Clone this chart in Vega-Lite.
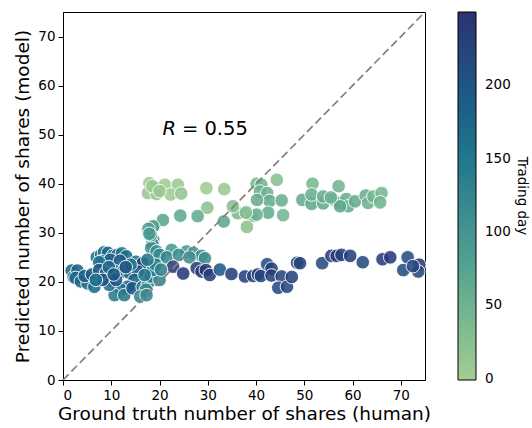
{
  "$schema": "https://vega.github.io/schema/vega-lite/v6.json",
  "width": 362,
  "height": 368,
  "autosize": {"type": "none"},
  "padding": {"left": 63, "top": 12, "right": 107, "bottom": 48},
  "config": {
    "font": "DejaVu Sans",
    "view": {"stroke": "black", "strokeWidth": 1},
    "axis": {"grid": false, "domainColor": "black", "tickColor": "black", "labelColor": "black", "titleColor": "black", "labelFontSize": 13.5, "titleFontSize": 18.5, "titleFontWeight": "normal", "tickSize": 5, "labelPadding": 3, "labelFont": "DejaVu Sans", "titleFont": "DejaVu Sans"}
  },
  "datasets": {
    "pts": [
      {"x": 17.9, "y": 40.1, "day": 5}, {"x": 19.3, "y": 39.1, "day": 10}, {"x": 21.1, "y": 39.8, "day": 3}, {"x": 23.8, "y": 39.8, "day": 8},
      {"x": 17.6, "y": 38.1, "day": 12}, {"x": 19.4, "y": 37.9, "day": 15}, {"x": 22.3, "y": 37.8, "day": 6}, {"x": 24.5, "y": 38.0, "day": 14},
      {"x": 29.7, "y": 39.1, "day": 4}, {"x": 33.4, "y": 38.9, "day": 7}, {"x": 29.9, "y": 35.1, "day": 20}, {"x": 18.5, "y": 39.5, "day": 9},
      {"x": 20.0, "y": 38.5, "day": 11},
      {"x": 18.9, "y": 31.4, "day": 75}, {"x": 20.7, "y": 32.6, "day": 70}, {"x": 24.3, "y": 33.5, "day": 65}, {"x": 27.9, "y": 33.4, "day": 62},
      {"x": 18.7, "y": 31.3, "day": 78}, {"x": 33.3, "y": 32.3, "day": 68},
      {"x": 44.3, "y": 40.8, "day": 25}, {"x": 40.1, "y": 40.0, "day": 40}, {"x": 41.1, "y": 39.8, "day": 45}, {"x": 40.8, "y": 38.4, "day": 55},
      {"x": 42.3, "y": 38.1, "day": 50}, {"x": 42.8, "y": 36.5, "day": 60}, {"x": 45.3, "y": 36.6, "day": 55}, {"x": 40.2, "y": 36.7, "day": 58},
      {"x": 45.6, "y": 33.6, "day": 45}, {"x": 38.0, "y": 34.3, "day": 35}, {"x": 36.2, "y": 34.0, "day": 40}, {"x": 39.1, "y": 33.4, "day": 30},
      {"x": 38.1, "y": 31.2, "day": 20}, {"x": 35.2, "y": 35.4, "day": 25}, {"x": 42.5, "y": 34.1, "day": 60}, {"x": 40.1, "y": 33.7, "day": 55},
      {"x": 37.9, "y": 34.1, "day": 30},
      {"x": 51.7, "y": 40.0, "day": 40}, {"x": 57.1, "y": 39.5, "day": 45}, {"x": 49.6, "y": 36.7, "day": 60}, {"x": 51.5, "y": 35.9, "day": 65},
      {"x": 51.5, "y": 37.8, "day": 55}, {"x": 53.9, "y": 36.0, "day": 62}, {"x": 53.9, "y": 37.4, "day": 58}, {"x": 56.0, "y": 36.8, "day": 60},
      {"x": 57.4, "y": 36.1, "day": 65}, {"x": 58.7, "y": 36.9, "day": 55}, {"x": 59.1, "y": 35.4, "day": 62}, {"x": 60.5, "y": 36.4, "day": 60},
      {"x": 62.7, "y": 37.6, "day": 55}, {"x": 63.2, "y": 36.1, "day": 50}, {"x": 64.3, "y": 37.4, "day": 45}, {"x": 66.0, "y": 38.1, "day": 40},
      {"x": 65.7, "y": 36.2, "day": 48}, {"x": 57.4, "y": 35.4, "day": 68}, {"x": 55.5, "y": 37.2, "day": 52},
      {"x": 18.7, "y": 28.6, "day": 100}, {"x": 18.5, "y": 27.8, "day": 105}, {"x": 18.3, "y": 26.9, "day": 110}, {"x": 19.4, "y": 26.2, "day": 115},
      {"x": 18.2, "y": 29.5, "day": 95}, {"x": 22.5, "y": 26.5, "day": 90}, {"x": 25.6, "y": 26.2, "day": 95}, {"x": 27.0, "y": 25.9, "day": 100},
      {"x": 28.7, "y": 25.3, "day": 105}, {"x": 29.4, "y": 24.8, "day": 110}, {"x": 20.0, "y": 25.5, "day": 120}, {"x": 21.5, "y": 25.0, "day": 118},
      {"x": 24.0, "y": 25.5, "day": 112}, {"x": 26.2, "y": 25.0, "day": 108}, {"x": 17.7, "y": 30.8, "day": 85}, {"x": 17.9, "y": 29.8, "day": 92},
      {"x": 16.6, "y": 23.6, "day": 225}, {"x": 22.8, "y": 23.1, "day": 235}, {"x": 24.9, "y": 21.7, "day": 240}, {"x": 27.7, "y": 22.8, "day": 230},
      {"x": 28.7, "y": 22.1, "day": 238}, {"x": 29.6, "y": 22.4, "day": 245}, {"x": 30.4, "y": 21.4, "day": 236}, {"x": 32.5, "y": 22.5, "day": 195},
      {"x": 34.9, "y": 21.6, "day": 232}, {"x": 37.7, "y": 21.1, "day": 228}, {"x": 39.4, "y": 21.2, "day": 226}, {"x": 40.4, "y": 21.5, "day": 240},
      {"x": 41.0, "y": 21.2, "day": 222}, {"x": 42.3, "y": 23.6, "day": 205}, {"x": 43.2, "y": 22.7, "day": 230}, {"x": 43.2, "y": 21.3, "day": 235},
      {"x": 45.3, "y": 21.1, "day": 220}, {"x": 44.6, "y": 18.8, "day": 215}, {"x": 46.4, "y": 19.0, "day": 218}, {"x": 47.4, "y": 21.0, "day": 225},
      {"x": 48.5, "y": 23.9, "day": 212}, {"x": 49.1, "y": 23.8, "day": 225}, {"x": 53.7, "y": 23.8, "day": 215}, {"x": 55.6, "y": 25.3, "day": 235},
      {"x": 56.7, "y": 25.3, "day": 232}, {"x": 57.7, "y": 25.5, "day": 228}, {"x": 59.5, "y": 25.3, "day": 230}, {"x": 62.1, "y": 24.0, "day": 215},
      {"x": 66.2, "y": 24.6, "day": 232}, {"x": 67.8, "y": 25.0, "day": 238}, {"x": 71.4, "y": 25.0, "day": 210}, {"x": 70.5, "y": 22.4, "day": 212},
      {"x": 73.8, "y": 23.5, "day": 238}, {"x": 73.6, "y": 22.1, "day": 215}, {"x": 72.5, "y": 23.2, "day": 222},
      {"x": 1.8, "y": 22.3, "day": 175}, {"x": 2.2, "y": 21.0, "day": 165}, {"x": 3.0, "y": 22.3, "day": 180}, {"x": 2.6, "y": 20.8, "day": 170},
      {"x": 3.7, "y": 20.1, "day": 175}, {"x": 5.1, "y": 19.7, "day": 160}, {"x": 6.5, "y": 19.0, "day": 168}, {"x": 4.5, "y": 21.2, "day": 185},
      {"x": 6.0, "y": 21.5, "day": 190},
      {"x": 7.0, "y": 25.0, "day": 160}, {"x": 7.9, "y": 25.5, "day": 165}, {"x": 8.5, "y": 26.0, "day": 155}, {"x": 9.3, "y": 25.9, "day": 170},
      {"x": 10.3, "y": 25.3, "day": 160}, {"x": 11.3, "y": 25.5, "day": 175}, {"x": 12.2, "y": 25.8, "day": 150}, {"x": 13.1, "y": 25.2, "day": 165},
      {"x": 8.0, "y": 24.2, "day": 180}, {"x": 9.8, "y": 24.5, "day": 185}, {"x": 11.8, "y": 24.3, "day": 190}, {"x": 7.5, "y": 24.0, "day": 150},
      {"x": 7.5, "y": 22.4, "day": 195}, {"x": 8.9, "y": 21.8, "day": 185}, {"x": 10.0, "y": 20.4, "day": 150}, {"x": 11.0, "y": 22.1, "day": 200},
      {"x": 12.4, "y": 22.1, "day": 190}, {"x": 13.8, "y": 21.8, "day": 170}, {"x": 15.1, "y": 24.1, "day": 150}, {"x": 16.5, "y": 23.8, "day": 230},
      {"x": 15.5, "y": 22.1, "day": 205}, {"x": 14.8, "y": 20.4, "day": 180}, {"x": 13.4, "y": 19.0, "day": 175}, {"x": 12.0, "y": 18.4, "day": 160},
      {"x": 10.7, "y": 17.3, "day": 140}, {"x": 9.6, "y": 19.4, "day": 165}, {"x": 8.2, "y": 20.4, "day": 200}, {"x": 6.8, "y": 20.4, "day": 160},
      {"x": 12.7, "y": 17.3, "day": 145}, {"x": 14.4, "y": 18.7, "day": 200}, {"x": 16.5, "y": 19.0, "day": 135}, {"x": 17.6, "y": 19.7, "day": 130},
      {"x": 18.2, "y": 21.1, "day": 140}, {"x": 20.0, "y": 20.4, "day": 125}, {"x": 17.2, "y": 18.4, "day": 120}, {"x": 18.6, "y": 22.4, "day": 135},
      {"x": 16.9, "y": 21.4, "day": 150}, {"x": 11.0, "y": 20.4, "day": 210}, {"x": 14.0, "y": 23.5, "day": 155}, {"x": 13.0, "y": 23.0, "day": 200},
      {"x": 9.5, "y": 23.0, "day": 175}, {"x": 10.5, "y": 21.5, "day": 195}, {"x": 16.0, "y": 17.0, "day": 125}, {"x": 19.2, "y": 23.5, "day": 140},
      {"x": 20.3, "y": 22.5, "day": 130}, {"x": 17.5, "y": 24.5, "day": 145}, {"x": 17.3, "y": 17.3, "day": 120}
    ],
    "diag": [{"x": 0, "y": 0}, {"x": 75, "y": 75}],
    "lbl": [{"x": 20.6, "y": 50, "t1": "R", "t2": "= 0.55"}]
  },
  "layer": [
    {
      "data": {"name": "pts"},
      "mark": {"type": "circle", "size": 185, "fillOpacity": 0.88, "strokeOpacity": 0.9, "stroke": "white", "strokeWidth": 1},
      "encoding": {
        "x": {"field": "x", "type": "quantitative", "scale": {"domain": [0, 75], "nice": false}, "axis": {"values": [0, 10, 20, 30, 40, 50, 60, 70], "title": "Ground truth number of shares (human)", "titlePadding": 3}},
        "y": {"field": "y", "type": "quantitative", "scale": {"domain": [0, 75], "nice": false}, "axis": {"values": [0, 10, 20, 30, 40, 50, 60, 70], "title": "Predicted number of shares (model)", "titlePadding": 5}},
        "color": {
          "field": "day", "type": "quantitative",
          "scale": {"domain": [-1, 35.7, 71.4, 107.1, 142.9, 178.6, 214.3, 250], "range": ["#a5cd90", "#7dba91", "#59a590", "#40908e", "#287a8c", "#1c6488", "#254b7f", "#2c3172"]},
          "legend": {"orient": "none", "legendX": 395, "legendY": 0, "direction": "vertical", "gradientLength": 368, "gradientThickness": 18, "gradientStrokeColor": "black", "gradientStrokeWidth": 1, "values": [0, 50, 100, 150, 200], "labelFontSize": 13.5, "labelColor": "black", "labelOffset": 9, "title": "Trading day", "titleOrient": "right", "titleAnchor": "middle", "titleFontSize": 13.5, "titleFontWeight": "normal", "titleColor": "black", "titlePadding": 4, "padding": 0}
        }
      }
    },
    {
      "data": {"name": "diag"},
      "mark": {"type": "line", "color": "#808080", "strokeDash": [8, 4], "strokeWidth": 1.7},
      "encoding": {"x": {"field": "x", "type": "quantitative"}, "y": {"field": "y", "type": "quantitative"}}
    },
    {
      "data": {"name": "lbl"},
      "mark": {"type": "text", "fontSize": 19.5, "fontStyle": "italic", "align": "left", "baseline": "alphabetic", "color": "black"},
      "encoding": {"x": {"field": "x", "type": "quantitative"}, "y": {"field": "y", "type": "quantitative"}, "text": {"field": "t1"}}
    },
    {
      "data": {"name": "lbl"},
      "mark": {"type": "text", "fontSize": 19.5, "align": "left", "baseline": "alphabetic", "dx": 19.5, "color": "black"},
      "encoding": {"x": {"field": "x", "type": "quantitative"}, "y": {"field": "y", "type": "quantitative"}, "text": {"field": "t2"}}
    }
  ]
}
